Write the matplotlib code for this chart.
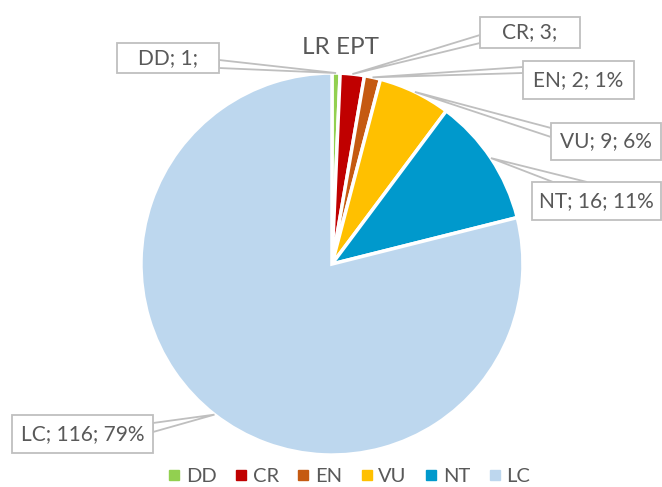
import matplotlib
matplotlib.use("Agg")
import matplotlib.pyplot as plt
from matplotlib.patches import Rectangle, Polygon
from matplotlib.lines import Line2D
import numpy as np

categories = ["DD", "CR", "EN", "VU", "NT", "LC"]
values = [1, 3, 2, 9, 16, 116]
label_texts = ["DD; 1;", "CR; 3;", "EN; 2; 1%", "VU; 9; 6%", "NT; 16; 11%", "LC; 116; 79%"]
colors = ["#92D050", "#C00000", "#C55A11", "#FFC000", "#0099CC", "#BDD7EE"]
title = "LR EPT"

W, H = 662, 487
plt.rcParams['font.family'] = ['Lato', 'DejaVu Sans']
TXT = "#595959"
EDGE = "#BFBFBF"

fig = plt.figure(figsize=(W / 100, H / 100), dpi=100)
ax = fig.add_axes([0, 0, 1, 1])

def Y(p):
    return H - p

cx, cy, R = 332, 264, 191
explode = [0, 0, 0, 0, 0, 0.03]
wedges, _ = ax.pie(values, colors=colors, startangle=90, counterclock=False,
                   center=(cx, Y(cy)), radius=R, explode=explode,
                   wedgeprops=dict(edgecolor="white", linewidth=2.5))
ax.set_xlim(0, W)
ax.set_ylim(0, H)
ax.set_aspect("auto")
ax.axis("off")

# box layouts (pixel coords): x0, y0, x1, y1, base points
boxes = [
    ((117, 43, 219, 73), [(219, 60), (219, 68)]),
    ((480, 17, 580, 48), [(480, 35), (480, 43)]),
    ((523, 61, 634, 99), [(523, 67), (523, 73)]),
    ((551, 123, 661, 160), [(551, 128), (551, 137)]),
    ((532, 182, 661, 220), [(553, 182), (587, 182)]),
    ((12, 415, 153, 453), [(153, 423), (153, 432)]),
]

for w, txt, (bx, base) in zip(wedges, label_texts, boxes):
    ang = np.deg2rad((w.theta1 + w.theta2) / 2)
    wx, wy = w.center
    tx = wx + w.r * np.cos(ang)
    ty = wy + w.r * np.sin(ang)
    poly = Polygon([(base[0][0], Y(base[0][1])), (tx, ty), (base[1][0], Y(base[1][1]))],
                   closed=True, facecolor="white", edgecolor=EDGE, linewidth=1.3, zorder=5)
    ax.add_patch(poly)
    x0, y0, x1, y1 = bx
    rect = Rectangle((x0, Y(y1)), x1 - x0, y1 - y0, facecolor="white",
                     edgecolor=EDGE, linewidth=1.3, zorder=6)
    ax.add_patch(rect)
    ax.text((x0 + x1) / 2, Y((y0 + y1) / 2), txt, ha="center", va="center",
            fontsize=15, color=TXT, zorder=7)

ax.text(340, Y(47), title, ha="center", va="center", fontsize=17.5, color=TXT)

handles = [Line2D([], [], linestyle="none", marker="s", markersize=6.5,
                  markerfacecolor=c, markeredgecolor=c) for c in colors]
fig.legend(handles, categories, loc="center", bbox_to_anchor=(350 / W, 1 - 476 / H),
           ncol=6, frameon=False, fontsize=14.5, labelcolor=TXT,
           handlelength=0.45, handletextpad=0.35, columnspacing=1.0, borderpad=0)

fig.savefig("out.png", dpi=100)
